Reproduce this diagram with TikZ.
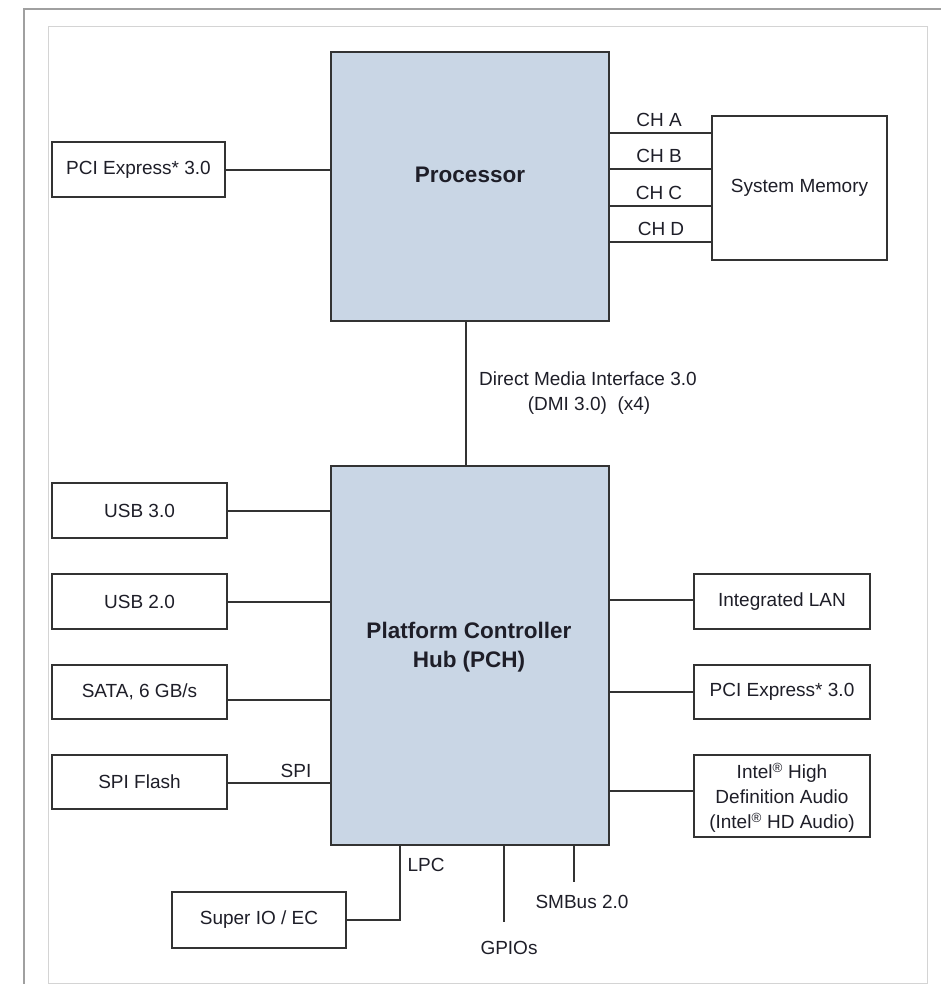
\documentclass[tikz,border=0pt]{standalone}
\usepackage{fontspec}
\setmainfont{Liberation Sans}
\definecolor{boxc}{HTML}{333333}
\definecolor{chipc}{HTML}{C9D6E5}
\definecolor{txt}{HTML}{1E1E28}
\definecolor{frameo}{HTML}{A0A0A0}
\definecolor{framei}{HTML}{D4D4D4}
\begin{document}
\begin{tikzpicture}[x=1pt,y=-1pt,
  box/.style={draw=boxc, line width=2.6pt, fill=white, inner sep=0pt, align=center,
    text=txt, font=\fontsize{19}{24.5}\selectfont},
  chip/.style={draw=boxc, line width=2.6pt, fill=chipc, inner sep=0pt},
  wire/.style={draw=boxc, line width=2.2pt},
  lbl/.style={text=txt, font=\fontsize{19}{25}\selectfont, inner sep=0pt, anchor=base},
  blbl/.style={text=txt, font=\fontsize{22.5}{29}\selectfont\bfseries, inner sep=0pt, anchor=base}]
\useasboundingbox (0,0) rectangle (941,984);
% frames
\draw[frameo, line width=1.5pt] (24,984) -- (24,9) -- (941,9);
\draw[framei, line width=1pt] (48,27) rectangle (927,983);

% main chips
\node[chip, minimum width=278pt, minimum height=269pt] (proc) at (470,186.5) {};
\node[blbl] (proclbl) at (470,183) {Processor};
\node[chip, minimum width=278pt, minimum height=379pt] (pch) at (470,655.5) {};
\node[blbl] (pchlbl1) at (469,638) {Platform Controller};
\node[blbl] (pchlbl2) at (469,667) {Hub (PCH)};

% boxes
\node[box, minimum width=173pt, minimum height=55pt] (pcieL) at (138.5,169.5) {PCI Express* 3.0};
\node[box, minimum width=175pt, minimum height=144pt] (mem) at (799.5,188) {System Memory};
\node[box, minimum width=175pt, minimum height=55pt] (usb3) at (139.5,510.5) {USB 3.0};
\node[box, minimum width=175pt, minimum height=55pt] (usb2) at (139.5,601.5) {USB 2.0};
\node[box, minimum width=175pt, minimum height=54pt] (sata) at (139.5,692) {SATA, 6 GB/s};
\node[box, minimum width=175pt, minimum height=54pt] (spi) at (139.5,782) {SPI Flash};
\node[box, minimum width=176pt, minimum height=55pt] (lan) at (782,601.5) {Integrated LAN};
\node[box, minimum width=176pt, minimum height=54pt] (pcieR) at (782,692) {PCI Express* 3.0};
\node[box, minimum width=176pt, minimum height=82pt] (hda) at (782,796) {};
\node[lbl, align=center, anchor=north] (hdalbl) at (hda.center) [yshift=33pt]
  {Intel\textsuperscript{®} High\\Definition Audio\\(Intel\textsuperscript{®} HD Audio)};
\node[box, minimum width=174pt, minimum height=56pt] (sio) at (259,920) {Super IO / EC};

% processor connectors
\coordinate (ypl) at (0,170);
\draw[wire] (pcieL.east |- ypl) -- (proc.west |- ypl);
\coordinate (ya) at (0,133);
\coordinate (yb) at (0,169);
\coordinate (yc) at (0,206);
\coordinate (yd) at (0,242);
\draw[wire] (proc.east |- ya) -- (mem.west |- ya);
\draw[wire] (proc.east |- yb) -- (mem.west |- yb);
\draw[wire] (proc.east |- yc) -- (mem.west |- yc);
\draw[wire] (proc.east |- yd) -- (mem.west |- yd);
\node[lbl] (cha) at (659,127) {CH A};
\node[lbl] (chb) at (659,163) {CH B};
\node[lbl] (chc) at (659,200) {CH C};
\node[lbl] (chd) at (661,236) {CH D};

% DMI
\coordinate (dmix) at (466,0);
\draw[wire] (proc.south -| dmix) -- (pch.north -| dmix);
\node[lbl] (dmi1) at (588,385) {Direct Media Interface 3.0};
\node[lbl] (dmi2) at (589,410) {(DMI 3.0)\ \ (x4)};

% PCH left
\coordinate (yu3) at (0,511);
\draw[wire] (usb3.east |- yu3) -- (pch.west |- yu3);
\coordinate (yu2) at (0,602);
\draw[wire] (usb2.east |- yu2) -- (pch.west |- yu2);
\coordinate (ysata) at (0,700);
\draw[wire] (sata.east |- ysata) -- (pch.west |- ysata);
\coordinate (yspi) at (0,783);
\draw[wire] (spi.east |- yspi) -- (pch.west |- yspi);
\node[lbl] (spilbl) at (296,777) {SPI};

% PCH right
\coordinate (ylan) at (0,600);
\draw[wire] (pch.east |- ylan) -- (lan.west |- ylan);
\draw[wire] (pch.east |- pcieR.west) -- (pcieR.west);
\coordinate (yhda) at (0,791);
\draw[wire] (pch.east |- yhda) -- (hda.west |- yhda);

% PCH bottom
\coordinate (lpcx) at (400,0);
\draw[wire] (pch.south -| lpcx) |- (sio.east);
\node[lbl] (lpclbl) at (426,871) {LPC};
\coordinate (gpioend) at (504,922);
\draw[wire] (pch.south -| gpioend) -- (gpioend);
\node[lbl] (gpiolbl) at (509,954) {GPIOs};
\coordinate (smbend) at (574,882);
\draw[wire] (pch.south -| smbend) -- (smbend);
\node[lbl] (smblbl) at (582,908) {SMBus 2.0};
\end{tikzpicture}
\end{document}
